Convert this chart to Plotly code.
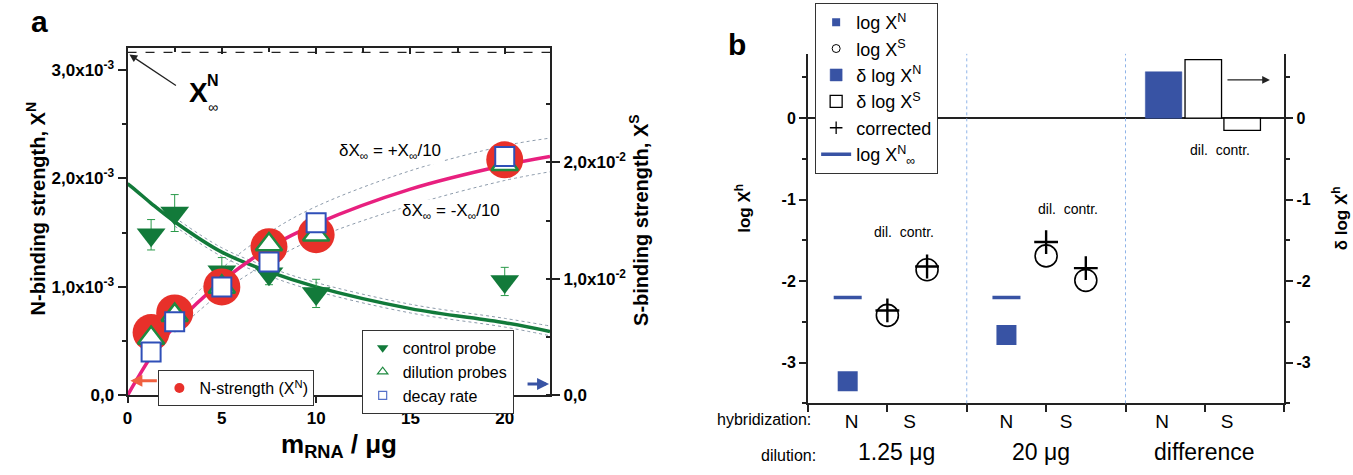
import plotly.graph_objects as go

# ---------------- panel a data ----------------
m_rna = [1.25, 2.5, 5, 7.5, 10, 20]
n_strength = [0.58e-3, 0.76e-3, 1.00e-3, 1.37e-3, 1.48e-3, 2.17e-3]
dilution_probes = [0.53e-3, 0.74e-3, 1.00e-3, 1.39e-3, 1.48e-3, 2.13e-3]
decay_rate = [0.40e-3, 0.68e-3, 1.00e-3, 1.23e-3, 1.59e-3, 2.20e-3]
control_probe = [1.48e-3, 1.68e-3, 1.14e-3, 1.12e-3, 0.94e-3, 1.05e-3]
control_err = [0.14e-3, 0.17e-3, 0.13e-3, 0.10e-3, 0.13e-3, 0.13e-3]

fit_m = [0, 0.5, 1.25, 2.5, 5, 7.5, 10, 15, 20, 22.4]
fit_n = [0, 0.15e-3, 0.36e-3, 0.64e-3, 1.05e-3, 1.36e-3, 1.58e-3, 1.90e-3, 2.12e-3, 2.20e-3]
fit_control = [1.95e-3, 1.88e-3, 1.77e-3, 1.60e-3, 1.32e-3, 1.14e-3, 1.00e-3, 0.80e-3, 0.67e-3, 0.59e-3]

band_m = [2.5, 5, 7.5, 10, 15, 20, 22.4]
fit_n_upper = [0.72e-3, 1.17e-3, 1.50e-3, 1.74e-3, 2.07e-3, 2.30e-3, 2.37e-3]
fit_n_lower = [0.58e-3, 0.95e-3, 1.23e-3, 1.45e-3, 1.75e-3, 1.98e-3, 2.06e-3]
fit_c_upper = [1.64e-3, 1.36e-3, 1.18e-3, 1.04e-3, 0.84e-3, 0.71e-3, 0.64e-3]
fit_c_lower = [1.56e-3, 1.28e-3, 1.10e-3, 0.96e-3, 0.76e-3, 0.63e-3, 0.55e-3]
x_inf = 3.16e-3

a_xticks = [0, 5, 10, 15, 20]
a_yticks = [0, 1e-3, 2e-3, 3e-3]
a_yticktext = ["0,0", "1,0x10<sup>-3</sup>", "2,0x10<sup>-3</sup>", "3,0x10<sup>-3</sup>"]
a_y2ticks = [0, 1e-2, 2e-2]
a_y2ticktext = ["0,0", "1,0x10<sup>-2</sup>", "2,0x10<sup>-2</sup>"]

# ---------------- panel b data ----------------
pos_N = [0.5, 2.5]
log_XN = [-3.23, -2.66]
log_Xinf = [-2.2, -2.2]
pos_S = [1.0, 1.5, 3.0, 3.5]
log_XS = [-2.42, -1.86, -1.69, -1.99]
corrected = [-2.36, -1.82, -1.52, -1.84]
bar_N_pos = [4.48]
delta_N = [0.57]
bar_S_pos = [4.98, 5.47]
delta_S = [0.72, -0.15]

hyb_pos = [0.55, 1.28, 2.5, 3.25, 4.46, 5.28]
hyb_labels = ["N", "S", "N", "S", "N", "S"]
dilution_labels = ["1.25 μg", "20 μg", "difference"]
b_yticks = [0, -1, -2, -3]

BLUE = "#3853a4"
RED = "#e8302a"
PINK = "#e8207f"
GREEN = "#127a3a"
FONT = "Liberation Sans, Arial, sans-serif"

fig = go.Figure()

def proxy(name, legend, marker, xaxis="x", yaxis="y", mode="markers", line=None):
    kw = dict(x=[None], y=[None], mode=mode, name=name, legend=legend, marker=marker,
              xaxis=xaxis, yaxis=yaxis, hoverinfo="skip")
    if line is not None:
        kw["line"] = line
    fig.add_trace(go.Scatter(**kw))

# dotted bands
for yy in (fit_n_upper, fit_n_lower, fit_c_upper, fit_c_lower):
    fig.add_trace(go.Scatter(x=band_m, y=yy, mode="lines", line=dict(color="#8d9bab", width=1, dash="dot"),
                             line_shape="spline", showlegend=False, hoverinfo="skip"))
# fits
fig.add_trace(go.Scatter(x=fit_m, y=fit_control, mode="lines", line=dict(color=GREEN, width=3.5),
                         line_shape="spline", showlegend=False))
fig.add_trace(go.Scatter(x=fit_m, y=fit_n, mode="lines", line=dict(color=PINK, width=3.5),
                         line_shape="spline", showlegend=False))

# markers
fig.add_trace(go.Scatter(x=m_rna, y=control_probe, mode="markers", showlegend=False,
                         marker=dict(symbol="triangle-down", size=25, color=GREEN),
                         error_y=dict(type="data", array=control_err, color="#2a9a4a", thickness=1, width=4)))
fig.add_trace(go.Scatter(x=m_rna, y=n_strength, mode="markers", showlegend=False,
                         marker=dict(symbol="circle", size=37, color=RED)))
fig.add_trace(go.Scatter(x=m_rna, y=dilution_probes, mode="markers", showlegend=False,
                         marker=dict(symbol="triangle-up", size=23, color="white", line=dict(color="#1f8a40", width=2.5))))
fig.add_trace(go.Scatter(x=m_rna, y=decay_rate, mode="markers", showlegend=False,
                         marker=dict(symbol="square", size=19, color="white", line=dict(color="#2f4fb8", width=2))))
# legend entries (panel a)
proxy("N-strength (X<sup>N</sup>)", "legend", dict(symbol="circle", size=10, color=RED))
proxy("control probe", "legend2", dict(symbol="triangle-down", size=10, color=GREEN))
proxy("dilution probes", "legend2", dict(symbol="triangle-up", size=9, color="white", line=dict(color="#1f8a40", width=1.2)))
proxy("decay rate", "legend2", dict(symbol="square", size=8, color="white", line=dict(color="#5570c8", width=1.2)))
# helpers to show right & top axes
fig.add_trace(go.Scatter(x=[None], y=[None], yaxis="y2", showlegend=False))
fig.add_trace(go.Scatter(x=[None], y=[None], xaxis="x3", showlegend=False))

# panel b
fig.add_trace(go.Scatter(x=pos_N, y=log_XN, mode="markers", showlegend=False,
                         xaxis="x4", yaxis="y4", marker=dict(symbol="square", size=20, color=BLUE)))
fig.add_trace(go.Scatter(x=pos_S, y=log_XS, mode="markers", showlegend=False,
                         xaxis="x4", yaxis="y4",
                         marker=dict(symbol="circle-open", size=22, color="black", line=dict(width=1.6))))
fig.add_trace(go.Scatter(x=pos_S, y=corrected, mode="markers", showlegend=False,
                         xaxis="x4", yaxis="y4",
                         marker=dict(symbol="cross-thin", size=17, color="black", line=dict(width=2.4, color="black"))))
fig.add_trace(go.Scatter(x=pos_N, y=log_Xinf, mode="markers", showlegend=False,
                         xaxis="x4", yaxis="y4",
                         marker=dict(symbol="line-ew", size=20, color=BLUE, line=dict(width=3.5, color=BLUE))))

proxy("log X<sup>N</sup>", "legend3", dict(symbol="square", size=8, color=BLUE), "x4", "y4")
proxy("log X<sup>S</sup>", "legend3", dict(symbol="circle-open", size=8, color="black", line=dict(width=1)), "x4", "y4")
fig.add_trace(go.Bar(x=bar_N_pos, y=delta_N, width=0.46, name="δ log X<sup>N</sup>", legend="legend3",
                     xaxis="x4", yaxis="y5", marker=dict(color=BLUE, line=dict(color=BLUE, width=0.5))))
fig.add_trace(go.Bar(x=bar_S_pos, y=delta_S, width=0.46, name="δ log X<sup>S</sup>", legend="legend3",
                     xaxis="x4", yaxis="y5", marker=dict(color="white", line=dict(color="black", width=1.3))))
proxy("corrected", "legend3", dict(symbol="cross-thin", size=9, color="black", line=dict(width=1.3, color="black")), "x4", "y4")
proxy("log X<sup>N</sup><sub>∞</sub>", "legend3", dict(size=1, color=BLUE), "x4", "y4", mode="lines",
      line=dict(color=BLUE, width=3.5))

axis_common = dict(showline=True, linecolor="#222", linewidth=2, showgrid=False, zeroline=False,
                   tickcolor="#222", tickwidth=1.5, tickfont=dict(size=17, color="black", family=FONT))

fig.update_layout(
    width=1353, height=475, margin=dict(l=0, r=0, t=0, b=0),
    paper_bgcolor="white", plot_bgcolor="white", barmode="overlay",
    font=dict(family=FONT, color="black"),
    xaxis=dict(domain=[0.0909, 0.4043], range=[0, 22.4], anchor="y", tickvals=a_xticks,
               ticktext=[f"<b>{v}</b>" for v in a_xticks], ticks="outside", ticklen=6,
               minor=dict(dtick=2.5, ticks="outside", ticklen=4, tickcolor="#222"), **axis_common),
    xaxis3=dict(overlaying="x", side="top", anchor="y", range=[0, 22.4], tickvals=a_xticks,
                showticklabels=False, ticks="inside", ticklen=6,
                minor=dict(dtick=2.5, ticks="inside", ticklen=4, tickcolor="#222"), **axis_common),
    yaxis=dict(domain=[0.1495, 0.8968], range=[0, 3.2e-3], anchor="x", tickvals=a_yticks,
               ticktext=[f"<b>{t}</b>" for t in a_yticktext], ticks="outside", ticklen=8,
               minor=dict(dtick=0.5e-3, ticks="outside", ticklen=4, tickcolor="#222"), **axis_common),
    yaxis2=dict(overlaying="y", side="right", anchor="x", range=[0, 2.98e-2], tickvals=a_y2ticks,
                ticktext=[f"<b>{t}</b>" for t in a_y2ticktext], ticks="outside", ticklen=8,
                minor=dict(dtick=0.5e-2, ticks="inside", ticklen=4, tickcolor="#222"), **axis_common),
    xaxis4=dict(domain=[0.5957, 0.949], range=[0, 6], anchor="y4", tickvals=hyb_pos, ticktext=hyb_labels,
                ticks="", tickfont=dict(size=19, color="black", family=FONT),
                minor=dict(dtick=1, tick0=0, ticks="outside", ticklen=7, tickcolor="#222", tickwidth=1.5),
                showline=True, linecolor="#222", linewidth=2, showgrid=False, zeroline=False),
    yaxis4=dict(domain=[0.1326, 0.8842], range=[-3.5, 0.79], anchor="x4", tickvals=b_yticks,
                ticktext=[f"<b>{v}</b>" for v in b_yticks], ticks="outside", ticklen=7,
                minor=dict(dtick=0.5, ticks="outside", ticklen=4, tickcolor="#222"),
                showline=True, linecolor="#222", linewidth=2, showgrid=False,
                zeroline=True, zerolinecolor="#222", zerolinewidth=1.5,
                tickcolor="#222", tickwidth=1.5, tickfont=dict(size=16, color="black", family=FONT)),
    yaxis5=dict(overlaying="y4", side="right", anchor="x4", range=[-3.5, 0.79], tickvals=b_yticks,
                ticktext=[f"<b>{v}</b>" for v in b_yticks], ticks="outside", ticklen=7,
                minor=dict(dtick=0.5, ticks="outside", ticklen=4, tickcolor="#222"),
                showline=True, linecolor="#222", linewidth=2, showgrid=False, zeroline=False,
                tickcolor="#222", tickwidth=1.5, tickfont=dict(size=16, color="black", family=FONT)),
    legend=dict(x=0.1138, y=0.204, xanchor="left", yanchor="top", bgcolor="white", bordercolor="#333",
                borderwidth=1, font=dict(size=16, family=FONT)),
    legend2=dict(x=0.2646, y=0.2905, xanchor="left", yanchor="top", bgcolor="white", bordercolor="#333",
                 borderwidth=1, font=dict(size=16, family=FONT)),
    legend3=dict(x=0.601, y=0.9937, xanchor="left", yanchor="top", bgcolor="white", bordercolor="#333",
                 borderwidth=1, font=dict(size=18, family=FONT)),
)

# X-infinity dashed line
fig.add_shape(type="line", xref="x domain", x0=0, x1=1, yref="y", y0=x_inf, y1=x_inf,
              line=dict(color="#222", width=1.2, dash="dash"))
# group separators panel b
for xv in (2, 4):
    fig.add_shape(type="line", xref="x4", x0=xv, x1=xv, yref="y4 domain", y0=0, y1=1,
                  line=dict(color="#8fb4e8", width=1, dash="dot"))

ann = []
def txt(x, y, text, size, bold=False, angle=0, xref="paper", yref="paper", **kw):
    t = f"<b>{text}</b>" if bold else text
    ann.append(dict(x=x, y=y, xref=xref, yref=yref, text=t, showarrow=False, textangle=angle,
                    xanchor="center", yanchor="middle",
                    font=dict(size=size, color="black", family=FONT), **kw))

def px(xp, yp):
    return xp / 1353, (475 - yp) / 475

txt(*px(35, 22), "a", 30, True)
txt(*px(735, 45), "b", 30, True)
txt(*px(31, 213), "N-binding strength, X<sup>N</sup>", 20, True, -90)
txt(*px(636, 225), "S-binding strength, X<sup>S</sup>", 20, True, -90)
txt(*px(335, 455), "m<sub>RNA</sub> / μg", 26, True)
txt(*px(194, 94), "X", 28, True)
txt(*px(209, 82), "N", 16, True)
txt(*px(209, 109), "∞", 14)
txt(*px(386, 155), "δX<sub>∞</sub> = +X<sub>∞</sub>/10", 17, bgcolor="white")
txt(*px(448, 217), "δX<sub>∞</sub> = -X<sub>∞</sub>/10", 17, bgcolor="white")
txt(*px(740, 213), "log X<sup>h</sup>", 17, True, -90)
txt(*px(1340, 223), "δ log X<sup>h</sup>", 17, True, -90)
txt(*px(762, 429), "hybridization:", 16)
txt(*px(786, 465), "dilution:", 16)
for xv, lab in zip([1.12, 2.94, 4.99], dilution_labels):
    ann.append(dict(x=xv, xref="x4", y=(475 - 462) / 475, yref="paper", text=lab, showarrow=False,
                    xanchor="center", yanchor="middle",
                    font=dict(size=23, color="black", family=FONT)))
for xv, yv in zip([1.21, 3.27, 5.19], [-1.40, -1.11, -0.39]):
    txt(xv, yv, "dil.  contr.", 14, xref="x4", yref="y4")

# arrows
ann.append(dict(x=0.1, y=3.14e-3, xref="x", yref="y", ax=48, ay=32, text="", showarrow=True,
                arrowhead=2, arrowsize=1.2, arrowwidth=1.3, arrowcolor="#222"))
ann.append(dict(x=0.15, y=0.135e-3, xref="x", yref="y", ax=28, ay=0, text="", showarrow=True,
                arrowhead=2, arrowsize=0.8, arrowwidth=3, arrowcolor="#f06040"))
ann.append(dict(x=22.35, y=0.105e-3, xref="x", yref="y", ax=-23, ay=0, text="", showarrow=True,
                arrowhead=2, arrowsize=0.8, arrowwidth=3, arrowcolor=BLUE))
ann.append(dict(x=5.82, y=0.47, xref="x4", yref="y4", ax=-44, ay=0, text="", showarrow=True,
                arrowhead=2, arrowsize=1.2, arrowwidth=1.3, arrowcolor="#222"))
fig.update_layout(annotations=ann)

fig.write_html("out.html")
